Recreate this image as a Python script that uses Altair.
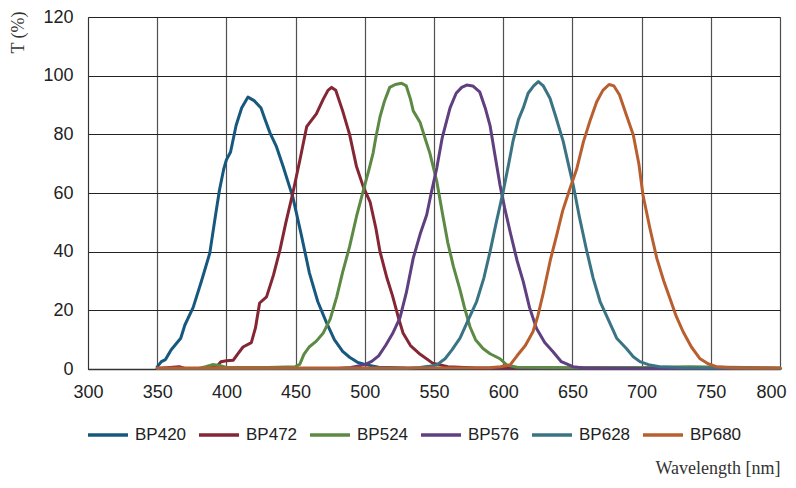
import altair as alt
import pandas as pd

series_names = ["BP420", "BP472", "BP524", "BP576", "BP628", "BP680"]
colors = ["#17587f", "#842634", "#5c8a44", "#5f3f80", "#3a7484", "#b95f2f"]

wl_420 = [350, 353, 356, 360, 364, 367, 370, 376, 382, 388, 392, 395, 398, 400, 403, 407, 411, 415.6, 420, 425, 428, 431.5, 436, 441, 448, 454, 460, 466, 472.5, 478, 484, 489, 495, 501.5, 510, 530, 600, 700, 800]
t_420 = [0.7, 2.5, 3.2, 6.5, 8.8, 10.5, 15, 21, 30, 39.5, 52, 61, 68, 71.3, 74, 83, 89, 92.7, 91.5, 89, 85, 80.5, 76, 69, 58.6, 46, 32.7, 23, 15.6, 10, 6, 4, 2.2, 1.4, 0.6, 0.3, 0.2, 0.2, 0.2]

wl_472 = [350, 366, 370, 385, 393, 396, 400, 405, 408, 412, 418, 421, 424, 429, 434, 438.7, 443, 448, 453, 458, 465, 470, 473.4, 476, 479, 484, 489, 494, 499, 503.8, 508, 511, 516, 520, 524, 527.6, 533, 540, 549, 560, 580, 700, 800]
t_472 = [0.2, 0.8, 0.2, 0.2, 0.8, 2.5, 2.8, 3, 5, 7.5, 9, 14, 22.5, 24.6, 32, 40.6, 50, 60, 71, 82.6, 87, 92, 95, 96, 95, 88, 80, 69, 62, 57, 48, 40, 31, 25, 18, 12.3, 8, 5, 2, 0.8, 0.3, 0.3, 0.2]

wl_524 = [350, 380, 385, 390, 395, 400, 430, 450, 453, 456, 460, 465, 470, 475, 479.7, 484, 489, 494, 499, 503, 506, 508, 511, 514, 518, 522, 526.6, 530, 533, 535, 540, 544, 547, 552, 556.5, 560, 564, 568.8, 572, 576, 580, 585.4, 590.5, 597.7, 602.5, 610, 650, 700, 735, 800]
t_524 = [0.2, 0.2, 0.8, 1.5, 1.2, 0.5, 0.5, 0.8, 1.6, 5, 7.6, 9.5, 12.3, 17, 24.6, 33, 41.7, 52, 61, 68, 73.6, 79, 86, 91, 96, 97, 97.4, 96.5, 92, 88, 84, 78, 73.6, 64, 52, 43, 35, 27, 21, 14.4, 10, 7, 5.2, 3.5, 1.4, 0.6, 0.4, 0.5, 0.8, 0.3]

wl_576 = [350, 480, 490, 500, 505, 510, 515, 520, 525.4, 530, 535, 540, 544.7, 548, 552, 556, 561.6, 566, 570, 573.6, 578, 583, 587, 590.5, 594, 597.7, 601, 605, 610, 614.5, 619, 624, 630, 636, 642, 650.4, 660, 700, 800]
t_576 = [0.2, 0.2, 0.5, 1.5, 2.6, 4.5, 8, 12, 17.4, 26, 37.8, 46, 52.5, 60, 68.5, 79, 89, 94, 96, 96.8, 96.5, 94.5, 89, 83, 73, 62.7, 55, 46.8, 37, 29.8, 21, 13.9, 9, 5.9, 2.5, 0.8, 0.3, 0.2, 0.2]

wl_628 = [350, 530, 540, 546, 552, 558, 563, 568.8, 575, 580.8, 586, 590.5, 595, 600, 604, 607, 611, 614.5, 618, 622, 625.4, 629, 633.8, 638, 643.4, 647, 650.6, 655, 660, 665, 670, 674.8, 682, 689, 694, 698.8, 705, 713, 730, 800]
t_628 = [0.2, 0.2, 0.5, 0.9, 1.4, 3.5, 6.5, 10.5, 17, 23, 31, 40, 50, 60.5, 70, 77.5, 85, 89, 94, 96.5, 98, 96.5, 92.3, 86, 77.5, 70, 62.7, 52, 41, 31, 23, 18, 10.5, 7, 4.2, 2.5, 1.5, 0.8, 0.4, 0.2]

wl_680 = [350, 590, 598, 605, 610, 616, 621.5, 625, 629, 634, 638.7, 643, 648.3, 653, 658, 663, 667.5, 672, 676.5, 680, 684, 689, 694, 698, 701, 706, 711, 716, 720.5, 725, 730, 736, 742, 748, 754, 765, 780, 800]
t_680 = [0.3, 0.4, 0.8, 1.4, 4.5, 8, 12.7, 18, 26, 37, 45.7, 54, 61.6, 68, 77.5, 85, 91, 95, 97, 96.5, 93.5, 86.6, 79.8, 70, 59.3, 48, 37.7, 30, 24, 18, 12.7, 7.5, 3.6, 1.8, 0.8, 0.4, 0.3, 0.3]

all_wl = [wl_420, wl_472, wl_524, wl_576, wl_628, wl_680]
all_t = [t_420, t_472, t_524, t_576, t_628, t_680]

rows = []
for order, (name, wls, ts) in enumerate(zip(series_names, all_wl, all_t)):
    for w, t in zip(wls, ts):
        rows.append({"Wavelength": w, "T": t, "Filter": name, "order": order})
df = pd.DataFrame(rows)

serif = "Liberation Serif"
sans = "Liberation Sans"

chart = alt.Chart(df).mark_line(strokeWidth=3, strokeJoin="round", strokeCap="round").encode(
    x=alt.X("Wavelength:Q",
            scale=alt.Scale(domain=[300, 800], nice=False, zero=False),
            axis=alt.Axis(values=list(range(300, 801, 50)), title="Wavelength [nm]",
                          titleFont=serif, titleFontSize=18, titleFontWeight="normal",
                          titleColor="#333", titleX=692, titleY=99, titleAlign="right",
                          titleBaseline="middle", labelFont=sans, labelFontSize=18,
                          labelColor="#222", labelPadding=14, ticks=False,
                          labelFlush=False,
                          labelOffset=alt.ConditionalAxisNumber(
                              condition={"test": "datum.value == 800", "value": -9},
                              value=0),
                          domainColor="#333", domainWidth=1.5,
                          gridColor="#333", gridWidth=1.2, gridOpacity=0.85)),
    y=alt.Y("T:Q",
            scale=alt.Scale(domain=[0, 120], nice=False),
            axis=alt.Axis(values=list(range(0, 121, 20)), title="T (%)",
                          titleFont=serif, titleFontSize=18, titleFontWeight="normal",
                          titleColor="#333", titleX=-70, titleY=15, titleAngle=270,
                          titleAlign="center", titleBaseline="middle",
                          labelFont=sans, labelFontSize=18, labelColor="#222",
                          labelPadding=15, ticks=False, labelFlush=False,
                          domainColor="#333",
                          gridColor="#222", gridWidth=1.2)),
    color=alt.Color("Filter:N",
                    scale=alt.Scale(domain=series_names, range=colors),
                    legend=alt.Legend(title=None, orient="none", direction="horizontal",
                                      legendX=-2, legendY=396, symbolType="stroke",
                                      symbolSize=1600, symbolStrokeWidth=3.5,
                                      labelFont=sans, labelFontSize=17, labelColor="#222",
                                      labelOffset=5, columnPadding=5, columns=6,
                                      gridAlign="all")),
    order=alt.Order("order:Q"),
    detail="Filter:N",
).properties(
    width=692, height=352,
    autosize=alt.AutoSizeParams(type="none"),
    padding={"left": 80, "top": 9, "right": 8, "bottom": 111},
).configure_view(stroke=None).configure(background="white")

chart.save("out.html", embed_options={"renderer": "svg", "actions": False})
